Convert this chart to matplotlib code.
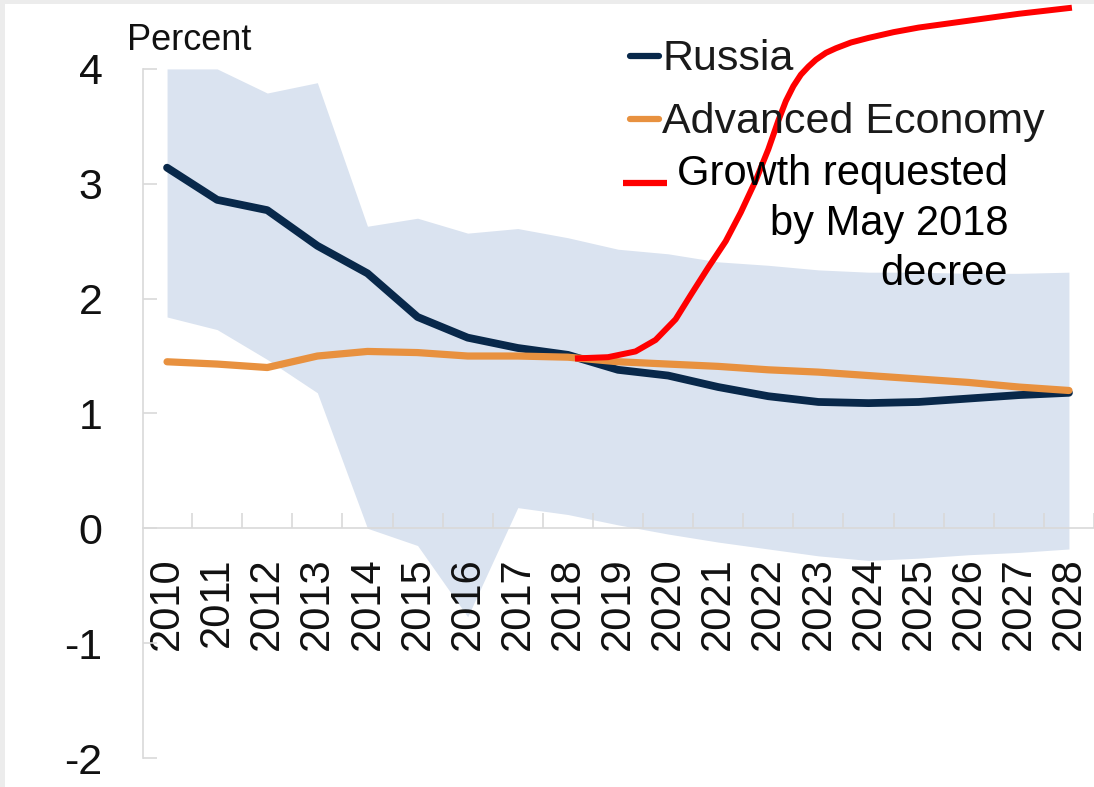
import numpy as np
import matplotlib
matplotlib.use("Agg")
import matplotlib.pyplot as plt
from matplotlib.lines import Line2D
from matplotlib.patches import Rectangle

# ---- data --------------------------------------------------------------------
years = list(range(2010, 2029))
russia = [3.14, 2.86, 2.77, 2.46, 2.22, 1.84, 1.66, 1.57, 1.51, 1.38,
          1.33, 1.23, 1.15, 1.10, 1.09, 1.10, 1.13, 1.16, 1.18]
advanced = [1.45, 1.43, 1.40, 1.50, 1.54, 1.53, 1.50, 1.50, 1.49, 1.45,
            1.43, 1.41, 1.38, 1.36, 1.33, 1.30, 1.27, 1.23, 1.20]
band_hi = [4.00, 4.00, 3.79, 3.88, 2.63, 2.70, 2.57, 2.61, 2.53, 2.43,
           2.39, 2.32, 2.29, 2.25, 2.23, 2.23, 2.22, 2.22, 2.23]
band_lo = [1.84, 1.73, 1.47, 1.18, 0.00, -0.15, -0.77, 0.18, 0.12, 0.03,
           -0.05, -0.12, -0.18, -0.24, -0.28, -0.26, -0.23, -0.21, -0.18]
decree_x = [2018.2, 2018.8, 2019.35, 2019.75, 2020.15, 2020.45, 2020.8,
            2021.15, 2021.45, 2021.75, 2022.0, 2022.2, 2022.35, 2022.5,
            2022.65, 2022.8, 2022.95, 2023.15, 2023.35, 2023.65, 2024.0,
            2024.5, 2025.0, 2026.0, 2027.0, 2028.0]
decree_y = [1.48, 1.49, 1.54, 1.64, 1.82, 2.03, 2.27, 2.50, 2.75, 3.03,
            3.30, 3.55, 3.72, 3.85, 3.95, 4.02, 4.08, 4.14, 4.18, 4.23,
            4.27, 4.32, 4.36, 4.42, 4.48, 4.53]
yticks = [-2, -1, 0, 1, 2, 3, 4]

# ---- palette -----------------------------------------------------------------
NAVY = "#08284a"
ORANGE = "#e8913f"
BAND = "#dae3f0"
RED = "#ff0000"
AXIS = "#d9d9d9"
INK = "#111111"

plt.rcParams["font.family"] = ["Liberation Sans", "DejaVu Sans"]

W, H = 1094, 787
fig = plt.figure(figsize=(W / 100, H / 100), dpi=100)
fig.patch.set_facecolor("#ececec")
fig.add_artist(Rectangle((5 / W, 0), 1, 1 - 4 / H, transform=fig.transFigure,
                         facecolor="white", edgecolor="none", zorder=-10))

ax = fig.add_axes([143 / W, 29 / H, 951 / W, 758 / H])
ax.set_facecolor("none")
ax.set_xlim(2009.52, 2028.44)
ax.set_ylim(-2, 4.6)

ax.fill_between(years, band_lo, band_hi, color=BAND, lw=0, zorder=1)
ax.plot(years, russia, color=NAVY, lw=5.6, solid_capstyle="round",
        solid_joinstyle="round", zorder=3)
ax.plot(years, advanced, color=ORANGE, lw=5.2, solid_capstyle="round",
        solid_joinstyle="round", zorder=4)
ax.plot(decree_x, decree_y, color=RED, lw=4.3, solid_joinstyle="round",
        zorder=5)

# axes styling
for s in ("top", "right"):
    ax.spines[s].set_visible(False)
ax.spines["left"].set_bounds(-2, 4)
ax.spines["left"].set_color(AXIS)
ax.spines["left"].set_linewidth(1.2)
ax.spines["bottom"].set_position(("data", 0))
ax.spines["bottom"].set_color(AXIS)
ax.spines["bottom"].set_linewidth(1.2)

ax.set_yticks(yticks)
ax.set_yticklabels([str(t) for t in yticks])
ax.tick_params(axis="y", direction="in", length=10, width=1.2, color=AXIS,
               pad=29, labelsize=31, labelcolor=INK)

ax.set_xticks(years)
ax.set_xticklabels([str(y) for y in years], rotation=90)
ax.set_xticks([y + 0.5 for y in years], minor=True)
ax.tick_params(axis="x", which="major", length=0, pad=21, labelsize=30,
               labelcolor=INK)
ax.tick_params(axis="x", which="minor", direction="in", length=11, width=1.2,
               color=AXIS)

# unit label
fig.text(127 / W, 1 - 50 / H, "Percent", ha="left", va="baseline",
         fontsize=26, color=INK)

# hand-placed legend
def handle(x0, x1, y, color, lw, cap):
    fig.add_artist(Line2D([x0 / W, x1 / W], [1 - y / H, 1 - y / H],
                          transform=fig.transFigure, color=color, lw=lw,
                          solid_capstyle=cap))

handle(630, 659, 56, NAVY, 4.5, "round")
fig.text(662 / W, 1 - 70 / H, "Russia", ha="left", va="baseline",
         fontsize=31, color="#1a1a1a")
handle(630, 659, 119, ORANGE, 4.5, "round")
fig.text(662 / W, 1 - 133 / H, "Advanced Economy", ha="left", va="baseline",
         fontsize=31, color="#1a1a1a")
handle(623, 667, 183, RED, 4.5, "butt")
for i, line in enumerate(["Growth requested", "by May 2018", "decree"]):
    fig.text(1008 / W, 1 - (185 + 50 * i) / H, line, ha="right",
             va="baseline", fontsize=30, color="black")

fig.savefig("out.png", dpi=100)
